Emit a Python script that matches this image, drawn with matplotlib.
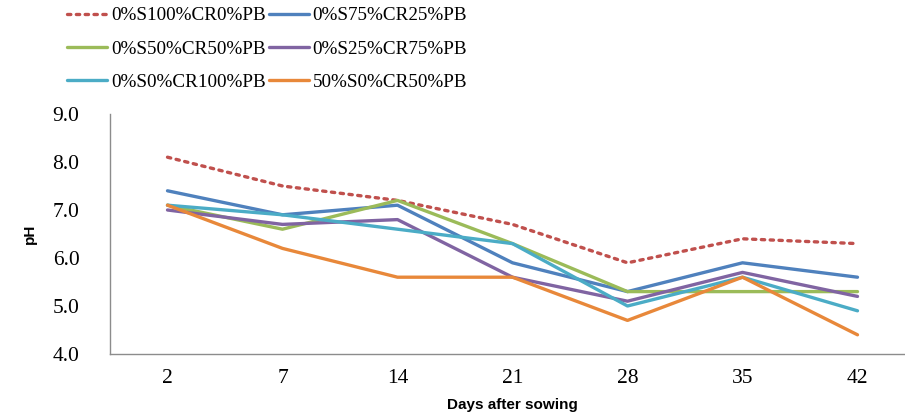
import matplotlib
matplotlib.use('Agg')
import matplotlib.pyplot as plt

days = ['2', '7', '14', '21', '28', '35', '42']
labels = ['0%S100%CR0%PB', '0%S75%CR25%PB', '0%S50%CR50%PB',
          '0%S25%CR75%PB', '0%S0%CR100%PB', '50%S0%CR50%PB']
s100_cr0 = [8.1, 7.5, 7.2, 6.7, 5.9, 6.4, 6.3]
s75_cr25 = [7.4, 6.9, 7.1, 5.9, 5.3, 5.9, 5.6]
s50_cr50 = [7.1, 6.6, 7.2, 6.3, 5.3, 5.3, 5.3]
s25_cr75 = [7.0, 6.7, 6.8, 5.6, 5.1, 5.7, 5.2]
s0_cr100 = [7.1, 6.9, 6.6, 6.3, 5.0, 5.6, 4.9]
s50_pb50 = [7.1, 6.2, 5.6, 5.6, 4.7, 5.6, 4.4]

series = [s100_cr0, s75_cr25, s50_cr50, s25_cr75, s0_cr100, s50_pb50]
colors = ['#C0504D', '#4F81BD', '#9BBB59', '#8064A2', '#4BACC6', '#E8883A']
styles = [':', '-', '-', '-', '-', '-']

serif = 'Liberation Serif'

fig = plt.figure(figsize=(9.05, 4.19), dpi=100)
ax = fig.add_axes([110 / 905, 1 - 354 / 419, 805 / 905, 240 / 419])

x = list(range(len(days)))
lines = []
for vals, lab, c, ls in zip(series, labels, colors, styles):
    ln, = ax.plot(x, vals, color=c, linestyle=ls, linewidth=2.4, label=lab,
                  dash_capstyle='round', solid_capstyle='round')
    lines.append(ln)

ax.set_xlim(-0.5, len(days) - 0.5)
ax.set_ylim(4.0, 9.0)
ax.set_yticks([4, 5, 6, 7, 8, 9])
ax.set_yticklabels([f'{v:.1f}' for v in [4, 5, 6, 7, 8, 9]],
                   fontsize=15.5, family=serif)
ax.set_xticks(x)
ax.set_xticklabels(days, fontsize=15.5, family=serif)
ax.tick_params(length=0)
ax.tick_params(axis='y', pad=22)
ax.tick_params(axis='x', pad=11)

for s in ('top', 'right'):
    ax.spines[s].set_visible(False)
for s in ('left', 'bottom'):
    ax.spines[s].set_color('#8c8c8c')
    ax.spines[s].set_linewidth(1.0)

ax.set_xlabel('Days after sowing', fontsize=11, fontweight='bold',
              family='Liberation Sans', labelpad=7)
ax.set_ylabel('pH', fontsize=11, fontweight='bold',
              family='Liberation Sans', labelpad=11)

# row-major legend order like the original
order = [0, 2, 4, 1, 3, 5]
fig.legend([lines[i] for i in order], [labels[i] for i in order],
           loc='upper left', bbox_to_anchor=(67 / 905, 1 - 7 / 419),
           ncol=2, frameon=False, borderpad=0, borderaxespad=0,
           handlelength=2.1, handletextpad=0.2, columnspacing=0.15,
           labelspacing=0.82, prop={'family': serif, 'size': 13.8})

fig.savefig('out.png', dpi=100)
